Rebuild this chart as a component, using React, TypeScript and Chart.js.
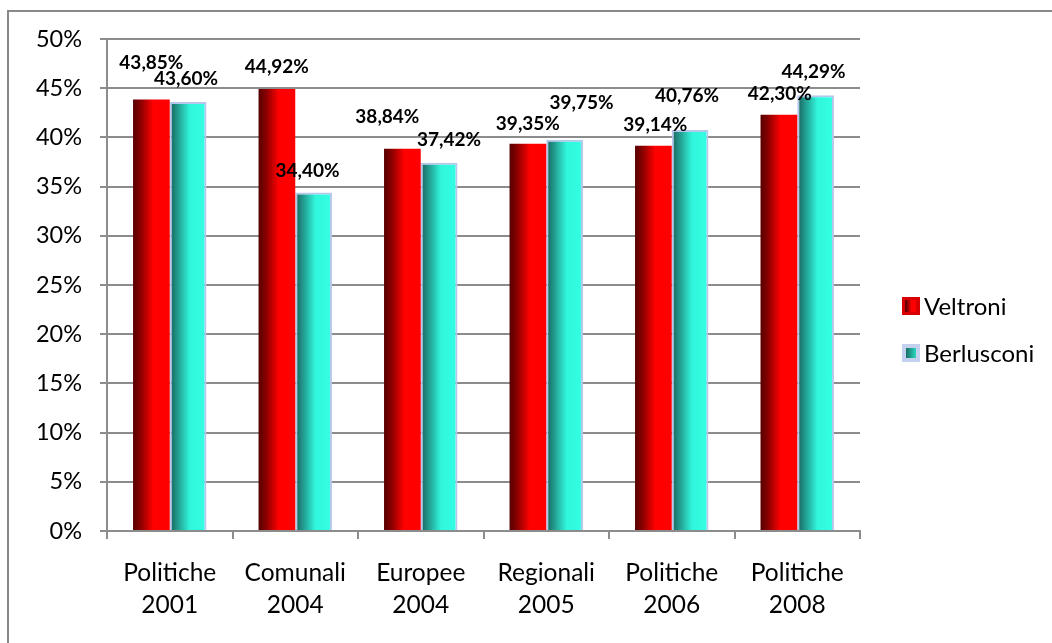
import React, { useEffect, useRef } from 'react';
import { Chart, registerables } from 'chart.js';

Chart.register(...registerables);

// ---- data ----
const categories: string[][] = [
  ['Politiche', '2001'],
  ['Comunali', '2004'],
  ['Europee', '2004'],
  ['Regionali', '2005'],
  ['Politiche', '2006'],
  ['Politiche', '2008'],
];
const seriesNames = ['Veltroni', 'Berlusconi'];
const veltroni = [43.85, 44.92, 38.84, 39.35, 39.14, 42.3];
const berlusconi = [43.6, 34.4, 37.42, 39.75, 40.76, 44.29];
const yMin = 0;
const yMax = 50;
const yStep = 5;

// label nudges (dx, dy) relative to each bar's top centre, as placed in the original
const labelNudge: number[][][] = [
  [[0, -37], [0, -22], [-15, -32], [0, -20], [2, -21], [1, -21]],
  [[-2, -23], [-6, -22], [10, -23], [17, -37], [-3, -34], [-2, -23]],
];

const FONT = 'Lato, "Open Sans", sans-serif';
const GRID = '#8c8c8c';

function redGrad(ctx: CanvasRenderingContext2D, left: number, w: number) {
  const g = ctx.createLinearGradient(left, 0, left + w, 0);
  g.addColorStop(0, '#560000');
  g.addColorStop(0.2, '#870000');
  g.addColorStop(0.55, '#ff0000');
  g.addColorStop(1, '#ff0000');
  return g;
}
function cyanGrad(ctx: CanvasRenderingContext2D, left: number, w: number) {
  const g = ctx.createLinearGradient(left, 0, left + w, 0);
  g.addColorStop(0, '#17625b');
  g.addColorStop(0.2, '#22968a');
  g.addColorStop(0.55, '#30f6dc');
  g.addColorStop(1, '#33ffe4');
  return g;
}
const grads = [redGrad, cyanGrad];

const fmt = (v: number) => v.toFixed(2).replace('.', ',') + '%';

const framePlugin = {
  id: 'frame',
  beforeDraw(chart: any) {
    const ctx = chart.ctx as CanvasRenderingContext2D;
    ctx.save();
    ctx.fillStyle = '#ffffff';
    ctx.fillRect(0, 0, chart.width, chart.height);
    ctx.strokeStyle = '#888888';
    ctx.lineWidth = 2;
    ctx.beginPath();
    ctx.moveTo(8, chart.height);
    ctx.lineTo(8, 11);
    ctx.lineTo(chart.width, 11);
    ctx.stroke();
    ctx.restore();
  },
};

const gradientPlugin = {
  id: 'barGradient',
  beforeDatasetsDraw(chart: any) {
    const ctx = chart.ctx as CanvasRenderingContext2D;
    chart.data.datasets.forEach((_: any, di: number) => {
      const meta = chart.getDatasetMeta(di);
      meta.data.forEach((el: any) => {
        const p = el.getProps(['x', 'width'], true);
        const left = p.x - p.width / 2;
        el.options = Object.assign({}, el.options, {
          backgroundColor: grads[di](ctx, left, p.width),
        });
      });
    });
  },
};

const labelPlugin = {
  id: 'valueLabels',
  afterDatasetsDraw(chart: any) {
    const ctx = chart.ctx as CanvasRenderingContext2D;
    ctx.save();
    ctx.font = `bold 19px ${FONT}`;
    ctx.fillStyle = '#000000';
    ctx.textAlign = 'center';
    ctx.textBaseline = 'middle';
    chart.data.datasets.forEach((ds: any, di: number) => {
      const meta = chart.getDatasetMeta(di);
      meta.data.forEach((el: any, i: number) => {
        const p = el.getProps(['x', 'y'], true);
        const [dx, dy] = labelNudge[di][i];
        ctx.fillText(fmt(ds.data[i]), p.x + dx, p.y + dy);
      });
    });
    ctx.restore();
  },
};

const legendPlugin = {
  id: 'sideLegend',
  afterDraw(chart: any) {
    const ctx = chart.ctx as CanvasRenderingContext2D;
    const area = chart.chartArea;
    const x0 = area.right + 42;
    const y0 = area.top + 267;
    const gap = 47;
    const sz = 18;
    ctx.save();
    ctx.font = `24px ${FONT}`;
    ctx.textAlign = 'left';
    ctx.textBaseline = 'middle';
    chart.data.datasets.forEach((ds: any, di: number) => {
      const cy = y0 + di * gap;
      const top = cy - sz / 2;
      if (di === 0) {
        ctx.fillStyle = '#d80000';
        ctx.fillRect(x0, top, sz, sz);
        ctx.fillStyle = grads[0](ctx, x0 + 3, sz - 6);
        ctx.fillRect(x0 + 3, top + 3, sz - 7, sz - 6);
      } else {
        ctx.fillStyle = '#c3d0ee';
        ctx.fillRect(x0, top, sz, sz);
        const g = ctx.createLinearGradient(x0 + 4, 0, x0 + sz - 4, 0);
        g.addColorStop(0, '#1b6e66');
        g.addColorStop(1, '#2ad8be');
        ctx.fillStyle = g;
        ctx.fillRect(x0 + 4, top + 4, sz - 8, sz - 8);
      }
      ctx.fillStyle = '#000000';
      ctx.fillText(ds.label, x0 + sz + 4, cy + 1);
    });
    ctx.restore();
  },
};

export default function App() {
  const ref = useRef<HTMLCanvasElement | null>(null);

  useEffect(() => {
    if (!ref.current) return;
    Chart.defaults.font.family = FONT;
    const chart = new Chart(ref.current, {
      type: 'bar',
      data: {
        labels: categories,
        datasets: [
          {
            label: seriesNames[0],
            data: veltroni,
            backgroundColor: '#ff0000',
            borderWidth: 0,
            categoryPercentage: 0.585,
            barPercentage: 1,
          },
          {
            label: seriesNames[1],
            data: berlusconi,
            backgroundColor: '#33ffe4',
            borderColor: '#b6c6ec',
            borderWidth: { top: 2, left: 2, right: 2, bottom: 0 },
            categoryPercentage: 0.585,
            barPercentage: 1,
          },
        ],
      },
      options: {
        responsive: false,
        animation: false,
        layout: { padding: { top: 39, right: 192, left: 0, bottom: 0 } },
        plugins: {
          legend: { display: false },
          tooltip: { enabled: false },
          title: { display: false },
        },
        scales: {
          x: {
            offset: true,
            grid: {
              display: true,
              drawOnChartArea: false,
              drawTicks: true,
              tickLength: 8,
              color: GRID,
              lineWidth: 2,
              offset: true,
            },
            border: { display: true, color: GRID, width: 2 },
            ticks: {
              color: '#000000',
              font: { size: 24.5, lineHeight: '32px' },
              padding: 18,
              maxRotation: 0,
              autoSkip: false,
            },
            afterFit: (s: any) => {
              s.height = 112;
            },
          },
          y: {
            min: yMin,
            max: yMax,
            grid: {
              color: GRID,
              lineWidth: 2,
              tickLength: 7,
              drawTicks: true,
            },
            border: { display: true, color: GRID, width: 2 },
            ticks: {
              stepSize: yStep,
              color: '#000000',
              font: { size: 23.5 },
              padding: 18,
              callback: (v: any) => `${v}%`,
            },
            afterFit: (s: any) => {
              s.width = 107;
            },
          },
        },
      },
      plugins: [framePlugin, gradientPlugin, labelPlugin, legendPlugin],
    } as any);
    return () => chart.destroy();
  }, []);

  return (
    <div style={{ position: 'absolute', left: 0, top: 0, width: 1052, height: 643 }}>
      <canvas ref={ref} width={1052} height={643} style={{ display: 'block' }} />
    </div>
  );
}
